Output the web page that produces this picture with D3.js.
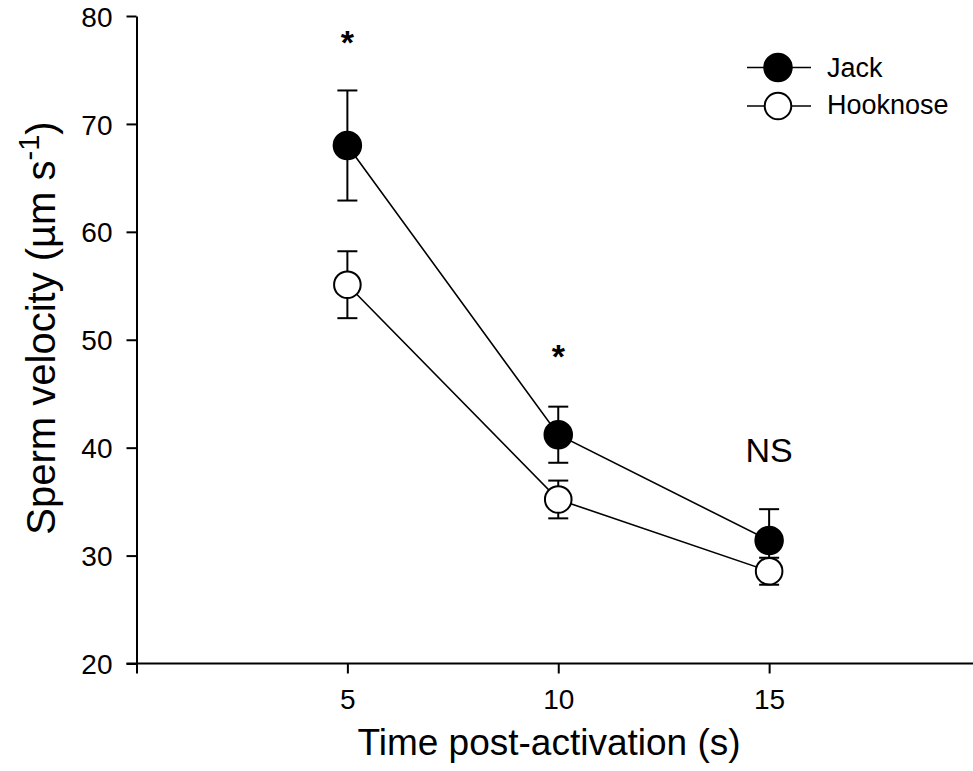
<!DOCTYPE html>
<html><head><meta charset="utf-8">
<script src="https://cdn.jsdelivr.net/npm/d3@7"></script>
<style>body{margin:0;background:#fff}svg{display:block}text{font-family:"Liberation Sans",Arial,sans-serif;fill:#000}</style>
</head><body><svg id="c" width="973" height="771"></svg>
<script>
const times = [5, 10, 15];
const jackMean = [68.0, 41.2, 31.4];
const jackErr = [5.1, 2.6, 2.9];
const hookMean = [55.1, 35.2, 28.55];
const hookErr = [3.1, 1.75, 1.25];
const xTicks = [0, 5, 10, 15, 20];
const xTickLabels = ["", "5", "10", "15", ""];
const yTicks = [20, 30, 40, 50, 60, 70, 80];
const sigLabels = ["*", "*", "NS"];
const sigValues = [76.5, 47.4, 38.7];
const seriesNames = ["Jack", "Hooknose"];

const svg = d3.select("#c");
const x = d3.scaleLinear().domain([0, 20]).range([136.5, 980]);
const y = d3.scaleLinear().domain([20, 80]).range([663.5, 16]);

// axes
const yAxis = svg.append("g").attr("transform", "translate(136.5,0)")
  .call(d3.axisLeft(y).tickValues(yTicks).tickSize(10).tickPadding(14).tickSizeOuter(0));
yAxis.select(".domain").attr("stroke-width", 2);
yAxis.selectAll(".tick line").attr("stroke-width", 2);
yAxis.selectAll(".tick text").style("font-size", "28px").attr("dy", "0.36em");

const xAxis = svg.append("g").attr("transform", "translate(0,663.5)")
  .call(d3.axisBottom(x).tickValues(xTicks).tickFormat((d, i) => xTickLabels[i]).tickSize(10).tickPadding(16).tickSizeOuter(0));
xAxis.select(".domain").attr("stroke-width", 2).attr("d", "M126.5,0H980");
xAxis.selectAll(".tick line").attr("stroke-width", 2);
xAxis.selectAll(".tick text").style("font-size", "28px");

svg.append("text").attr("x", 549).attr("y", 755).attr("text-anchor", "middle")
  .style("font-size", "37px").text("Time post-activation (s)");

const yt = svg.append("text").attr("transform", "translate(55,328) rotate(-90)")
  .attr("text-anchor", "middle").style("font-size", "40px");
yt.append("tspan").text("Sperm velocity (\u00b5m s");
yt.append("tspan").attr("dy", "-16").style("font-size", "29px").text("-1");
yt.append("tspan").attr("dy", "16").text(")");

function drawSeries(means, errs) {
  const pts = times.map((t, i) => [x(t), y(means[i])]);
  svg.append("path").attr("d", d3.line()(pts)).attr("fill", "none").attr("stroke", "#000").attr("stroke-width", 1.6);
  const g = svg.append("g");
  times.forEach((t, i) => {
    const cx = x(t), top = y(means[i] + errs[i]), bot = y(means[i] - errs[i]);
    g.append("line").attr("x1", cx).attr("x2", cx).attr("y1", top).attr("y2", bot).attr("stroke", "#000").attr("stroke-width", 2);
    [top, bot].forEach(v => g.append("line").attr("x1", cx - 10).attr("x2", cx + 10).attr("y1", v).attr("y2", v).attr("stroke", "#000").attr("stroke-width", 2));
  });
  return pts;
}
const jp = drawSeries(jackMean, jackErr);
jp.forEach(p => svg.append("circle").attr("cx", p[0]).attr("cy", p[1]).attr("r", 14).attr("fill", "#000").attr("stroke", "#000").attr("stroke-width", 1.5));
const hp = drawSeries(hookMean, hookErr);
hp.forEach(p => svg.append("circle").attr("cx", p[0]).attr("cy", p[1]).attr("r", 13.3).attr("fill", "#fff").attr("stroke", "#000").attr("stroke-width", 2));

// significance labels
sigLabels.forEach((s, i) => {
  const t = svg.append("text").attr("x", x(times[i])).attr("text-anchor", "middle").attr("y", y(sigValues[i])).text(s);
  if (s === "*") t.style("font-size", "34px").style("font-weight", "bold");
  else t.style("font-size", "34px");
});

// legend
const legY = [67.5, 106];
const legOff = [9, 7.5];
seriesNames.forEach((n, i) => {
  const ly = legY[i];
  svg.append("line").attr("x1", 747).attr("x2", 811).attr("y1", ly).attr("y2", ly).attr("stroke", "#000").attr("stroke-width", 1.6);
  svg.append("circle").attr("cx", 778).attr("cy", ly).attr("r", i === 0 ? 14 : 13.3).attr("fill", i === 0 ? "#000" : "#fff").attr("stroke", "#000").attr("stroke-width", i === 0 ? 1.5 : 2);
  svg.append("text").attr("x", 827).attr("y", ly + legOff[i]).style("font-size", "27px").text(n);
});
</script></body></html>
